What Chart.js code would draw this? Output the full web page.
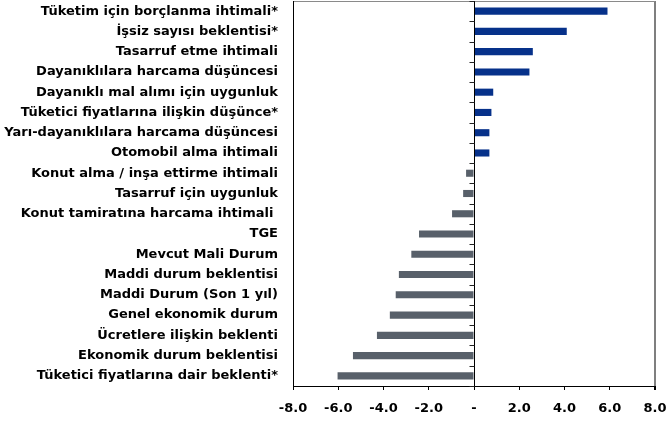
<!DOCTYPE html>
<html>
<head>
<meta charset="utf-8">
<script src="https://cdn.jsdelivr.net/npm/chart.js@4/dist/chart.umd.min.js"></script>
<style>
html,body{margin:0;padding:0;background:#fff;}
#wrap{width:666px;height:421px;}
</style>
</head>
<body>
<div id="wrap"><canvas id="c" width="666" height="421"></canvas></div>
<script>
const categories = [
  "Tüketim için borçlanma ihtimali*",
  "İşsiz sayısı beklentisi*",
  "Tasarruf etme ihtimali",
  "Dayanıklılara harcama düşüncesi",
  "Dayanıklı mal alımı için uygunluk",
  "Tüketici fiyatlarına ilişkin düşünce*",
  "Yarı-dayanıklılara harcama düşüncesi",
  "Otomobil alma ihtimali",
  "Konut alma / inşa ettirme ihtimali",
  "Tasarruf için uygunluk",
  "Konut tamiratına harcama ihtimali ",
  "TGE",
  "Mevcut Mali Durum",
  "Maddi durum beklentisi",
  "Maddi Durum (Son 1 yıl)",
  "Genel ekonomik durum",
  "Ücretlere ilişkin beklenti",
  "Ekonomik durum beklentisi",
  "Tüketici fiyatlarına dair beklenti*"
];
const values = [5.9, 4.1, 2.6, 2.45, 0.85, 0.77, 0.68, 0.68, -0.35, -0.48, -0.97, -2.43, -2.77, -3.32, -3.46, -3.72, -4.29, -5.35, -6.03];
const xTicks = [-8, -6, -4, -2, 0, 2, 4, 6, 8];

const POS = '#06318a', NEG = '#58606a';
const FONT = '"DejaVu Sans", sans-serif';

// zero line with category-boundary tick marks, drawn from the chart's own scales
const zeroAxis = {
  id: 'zeroAxis',
  afterDatasetsDraw(chart) {
    const { ctx, chartArea, scales } = chart;
    const x0 = Math.round(scales.x.getPixelForValue(0)) + 0.5;
    const y = scales.y;
    ctx.save();
    ctx.strokeStyle = '#000';
    ctx.lineWidth = 1;
    ctx.beginPath();
    ctx.moveTo(x0, chartArea.top);
    ctx.lineTo(x0, chartArea.bottom + 4);
    ctx.stroke();
    ctx.strokeStyle = '#222';
    const n = chart.data.labels.length;
    for (let i = 0; i <= n; i++) {
      const yy = Math.round(y.getPixelForValue(i - 0.5)) + 0.5;
      ctx.beginPath();
      ctx.moveTo(x0 - 5, yy);
      ctx.lineTo(x0, yy);
      ctx.stroke();
    }
    ctx.restore();
  }
};

new Chart(document.getElementById('c'), {
  type: 'bar',
  data: {
    labels: categories,
    datasets: [{
      data: values,
      backgroundColor: values.map(v => v >= 0 ? POS : NEG),
      borderWidth: 0,
      barPercentage: 0.7,
      categoryPercentage: 0.5
    }]
  },
  plugins: [zeroAxis],
  options: {
    indexAxis: 'y',
    responsive: false,
    animation: false,
    layout: { padding: { top: 1, right: 11, bottom: 0, left: 0 } },
    plugins: { legend: { display: false }, tooltip: { enabled: false } },
    scales: {
      x: {
        type: 'linear',
        min: -8, max: 8,
        afterBuildTicks: s => { s.ticks = xTicks.map(v => ({ value: v })); },
        afterFit: s => { s.height = 35; s.paddingLeft = 0; s.paddingRight = 0; },
        border: { display: true, color: '#000', width: 1 },
        grid: {
          drawOnChartArea: true,
          color: c => c.tick && c.tick.value === 8 ? '#7f7f7f' : 'rgba(0,0,0,0)',
          lineWidth: c => c.tick && c.tick.value === 8 ? 2 : 1,
          tickColor: '#000',
          tickLength: 4
        },
        ticks: {
          color: '#000',
          padding: 11,
          maxRotation: 0,
          font: { family: FONT, size: 13, weight: 'bold' },
          callback: v => v === 0 ? '-' : v.toFixed(1)
        }
      },
      y: {
        type: 'category',
        position: 'left',
        afterFit: s => { s.width = 293; s.paddingTop = 0; s.paddingBottom = 0; },
        border: { display: true, color: '#000', width: 1 },
        grid: {
          offset: true,
          drawTicks: false,
          color: c => c.index === 0 ? '#8a8a8a' : 'rgba(0,0,0,0)'
        },
        ticks: {
          color: '#000',
          padding: 15,
          autoSkip: false,
          font: { family: FONT, size: 13, weight: 'bold' }
        }
      }
    }
  }
});
</script>
</body>
</html>
